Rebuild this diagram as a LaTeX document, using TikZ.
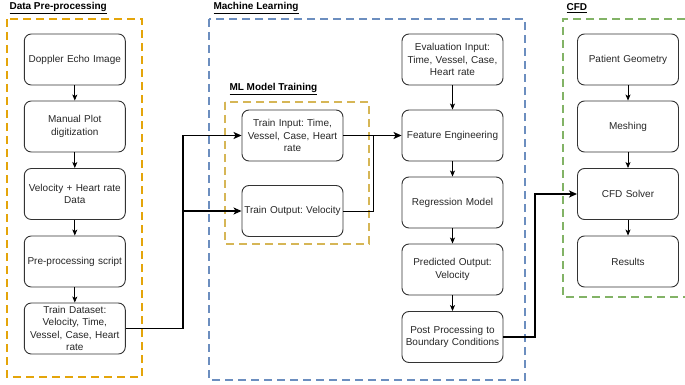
\documentclass[tikz,border=0pt]{standalone}
\usepackage{fontspec}
\setmainfont{Liberation Sans}
\usetikzlibrary{arrows.meta}

\definecolor{dporange}{RGB}{228,165,10}
\definecolor{mlyellow}{RGB}{214,182,86}
\definecolor{mlblue}{RGB}{108,142,191}
\definecolor{cfdgreen}{RGB}{130,179,102}
\definecolor{boxline}{RGB}{51,51,51}

\newcommand{\boxfont}{\fontsize{10}{12.5}\selectfont\frenchspacing\hyphenpenalty=10000\relax}

\tikzset{
  stepbox/.style={draw=boxline, line width=0.9pt, rounded corners=7pt, minimum width=101pt, minimum height=51pt, text width=99pt, align=center, inner xsep=1pt, inner ysep=2pt, font=\boxfont, text=black!85},
  flow/.style={-{Stealth[length=6pt,width=5pt,inset=1.5pt]}, line width=0.8pt},
  linkarrow/.style={line width=1.5pt, -{Stealth[length=8pt,width=7pt,inset=2pt]}},
  frame/.style={dash pattern=on 8pt off 5pt, line width=1.8pt},
  title/.style={anchor=west, font=\bfseries\fontsize{10}{12}\selectfont}
}

\begin{document}
\begin{tikzpicture}[x=1pt, y=-1pt]
    \useasboundingbox (0,0) rectangle (685,385);

    % group frames
    \draw[frame, draw=dporange] (7,19) rectangle (142,377);
    \draw[frame, draw=mlblue] (209,19) rectangle (525,380);
    \draw[frame, draw=mlyellow] (225,102) rectangle (369,244);
    \draw[frame, draw=cfdgreen] (685,19) -- (563,19) -- (563,297) -- (685,297);

    \node[title] (dptitle) at (6,8) {\underline{Data Pre-processing}};
    \node[title] (mltitle) at (210,8) {\underline{Machine Learning}};
    \node[title] (trtitle) at (226,89) {\underline{ML Model Training}};
    \node[title] (cfdtitle) at (563,8) {\underline{CFD}};

    % data pre-processing
    \node[stepbox] (doppler) at (74.8,59.5) {Doppler Echo Image};
    \node[stepbox] (manual) at (74.8,126.5) {Manual Plot\\digitization};
    \node[stepbox] (velhr) at (74.8,194) {Velocity + Heart rate\\Data};
    \node[stepbox] (script) at (74.8,261.5) {Pre-processing script};
    \node[stepbox] (dataset) at (74.8,328.5) {Train Dataset:\\Velocity, Time,\\Vessel, Case, Heart\\rate};

    \draw[flow] (doppler) -- (manual);
    \draw[flow] (manual) -- (velhr);
    \draw[flow] (velhr) -- (script);
    \draw[flow] (script) -- (dataset);

    % ml model training
    \node[stepbox] (trainin) at (292.5,135.5) {Train Input: Time,\\Vessel, Case, Heart\\rate};
    \node[stepbox] (trainout) at (292.5,211) {Train Output: Velocity};

    % machine learning
    \node[stepbox] (evalin) at (452.5,59.5) {Evaluation Input:\\Time, Vessel, Case,\\Heart rate};
    \node[stepbox] (feat) at (452.5,135.5) {Feature Engineering};
    \node[stepbox] (regr) at (452.5,202.5) {Regression Model};
    \node[stepbox] (pred) at (452.5,269.5) {Predicted Output:\\Velocity};
    \node[stepbox] (post) at (452.5,337) {Post Processing to\\Boundary Conditions};

    \draw[flow] (evalin) -- (feat);
    \draw[flow] (feat) -- (regr);
    \draw[flow] (regr) -- (pred);
    \draw[flow] (pred) -- (post);

    % cfd
    \node[stepbox] (geom) at (628,59.5) {Patient Geometry};
    \node[stepbox] (mesh) at (628,126.5) {Meshing};
    \node[stepbox] (solver) at (628,194) {CFD Solver};
    \node[stepbox] (results) at (628,261.5) {Results};

    \draw[flow] (geom) -- (mesh);
    \draw[flow] (mesh) -- (solver);
    \draw[flow] (solver) -- (results);

    % connectors between groups
    \coordinate (splitA) at (183,0);
    \coordinate (mergeA) at (373,0);
    \coordinate (bendB) at (535,0);

    \draw[linkarrow] (dataset.east) -| (splitA |- trainin.west) -- (trainin.west);
    \draw[linkarrow] (splitA |- trainout.west) -- (trainout.west);

    \draw[line width=0.8pt] (trainin.east) -- (mergeA |- trainin.east);
    \draw[line width=0.8pt] (trainout.east) -| (mergeA |- trainin.east);
    \draw[linkarrow] (mergeA |- feat.west) -- (feat.west);

    \draw[linkarrow] (post.east) -| (bendB |- solver.west) -- (solver.west);
\end{tikzpicture}
\end{document}
